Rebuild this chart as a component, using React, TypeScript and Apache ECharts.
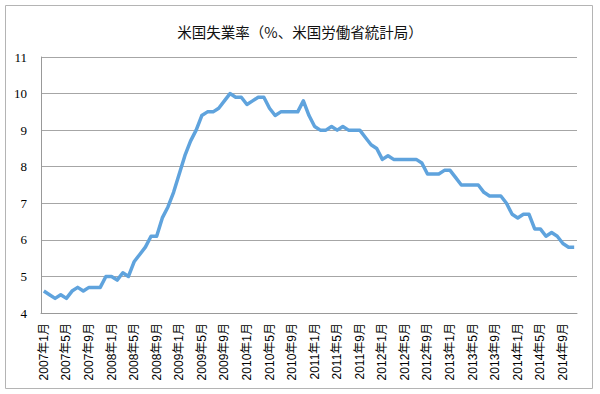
import React, { useEffect, useRef } from "react";
import * as echarts from "echarts";

const title = "米国失業率（%、米国労働省統計局）";
const years = [2007, 2008, 2009, 2010, 2011, 2012, 2013, 2014];
const u2007 = [4.6, 4.5, 4.4, 4.5, 4.4, 4.6, 4.7, 4.6, 4.7, 4.7, 4.7, 5.0];
const u2008 = [5.0, 4.9, 5.1, 5.0, 5.4, 5.6, 5.8, 6.1, 6.1, 6.6, 6.9, 7.3];
const u2009 = [7.8, 8.3, 8.7, 9.0, 9.4, 9.5, 9.5, 9.6, 9.8, 10.0, 9.9, 9.9];
const u2010 = [9.7, 9.8, 9.9, 9.9, 9.6, 9.4, 9.5, 9.5, 9.5, 9.5, 9.8, 9.4];
const u2011 = [9.1, 9.0, 9.0, 9.1, 9.0, 9.1, 9.0, 9.0, 9.0, 8.8, 8.6, 8.5];
const u2012 = [8.2, 8.3, 8.2, 8.2, 8.2, 8.2, 8.2, 8.1, 7.8, 7.8, 7.8, 7.9];
const u2013 = [7.9, 7.7, 7.5, 7.5, 7.5, 7.5, 7.3, 7.2, 7.2, 7.2, 7.0, 6.7];
const u2014 = [6.6, 6.7, 6.7, 6.3, 6.3, 6.1, 6.2, 6.1, 5.9, 5.8, 5.8];
const yearly = [u2007, u2008, u2009, u2010, u2011, u2012, u2013, u2014];

const categories: string[] = [];
const values: number[] = [];
yearly.forEach((arr, yi) => {
  arr.forEach((v, mi) => {
    categories.push(`${years[yi]}年${mi + 1}月`);
    values.push(v);
  });
});

export default function App() {
  const ref = useRef<HTMLDivElement>(null);
  useEffect(() => {
    if (!ref.current) return;
    const chart = echarts.init(ref.current, undefined, { renderer: "svg" });
    chart.setOption({
      animation: false,
      backgroundColor: "#ffffff",
      title: {
        text: title,
        left: "center",
        top: 19,
        textStyle: {
          fontFamily: "Noto Sans CJK JP",
          fontSize: 14.5,
          fontWeight: "normal",
          color: "#111",
        },
      },
      graphic: [
        {
          type: "rect",
          shape: { x: 5.5, y: 5.5, width: 587, height: 383 },
          style: { fill: "none", stroke: "#b4b4b4", lineWidth: 1 },
          silent: true,
        },
      ],
      grid: { left: 41, top: 57, width: 536, height: 256, containLabel: false },
      xAxis: {
        type: "category",
        data: categories,
        boundaryGap: true,
        axisLine: { show: true, lineStyle: { color: "#999", width: 1 } },
        axisTick: { show: false },
        axisLabel: {
          interval: 3,
          rotate: 90,
          margin: 10,
          fontSize: 12,
          color: "#000",
          fontFamily: "Liberation Sans, Noto Sans CJK JP, sans-serif",
        },
        splitLine: { show: false },
      },
      yAxis: {
        type: "value",
        min: 4,
        max: 11,
        interval: 1,
        axisLine: { show: true, lineStyle: { color: "#999", width: 1 } },
        axisTick: { show: false },
        axisLabel: {
          margin: 14,
          fontSize: 13,
          color: "#000",
          fontFamily: "Liberation Serif, serif",
        },
        splitLine: { show: true, lineStyle: { color: "#a6a6a6", width: 1 } },
      },
      series: [
        {
          type: "line",
          data: values,
          symbol: "none",
          lineStyle: { color: "#5fa3dd", width: 3.5, join: "round" },
          itemStyle: { color: "#5fa3dd" },
        },
      ],
    });
    return () => chart.dispose();
  }, []);
  return (
    <div
      ref={ref}
      style={{ position: "fixed", left: 0, top: 0, width: 600, height: 394 }}
    />
  );
}
